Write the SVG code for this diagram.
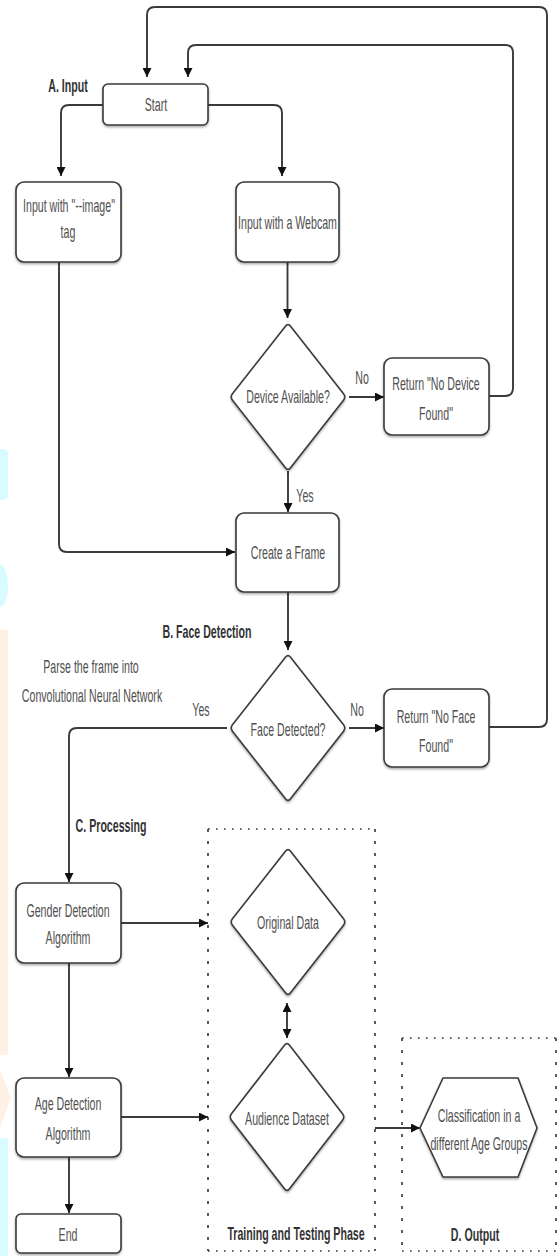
<svg xmlns="http://www.w3.org/2000/svg" width="558" height="1256" viewBox="0 0 558 1256">
<style>
.bg{fill:#ffffff}
.node{fill:#ffffff;stroke:#3a3a3a;stroke-width:1.6;stroke-linejoin:round;filter:url(#sh)}
.dot-h{fill:none;stroke:#333;stroke-width:1.6;stroke-dasharray:1.6 6.4}
.dot-v{fill:none;stroke:#333;stroke-width:1.6;stroke-dasharray:3 9}
.conn path{fill:none;stroke:#3a3a3a;stroke-width:1.9}
.arr{marker-end:url(#ah)}
.t{font-family:"Liberation Sans",Arial,sans-serif;font-size:18px;fill:#505050;text-anchor:middle}
.lb{font-family:"Liberation Sans",Arial,sans-serif;font-size:18px;font-weight:bold;fill:#333;text-anchor:middle}
.wm-c{fill:#d7fbfe}
.wm-o{fill:#fff1e4}
</style>
<defs>
<marker id="ah" viewBox="0 0 10 10" refX="10" refY="5" markerWidth="9" markerHeight="9" markerUnits="userSpaceOnUse" orient="auto-start-reverse">
<path d="M0,0 L10,5 L0,10 z" fill="#111"/>
</marker>
<filter id="sh" x="-10%" y="-10%" width="120%" height="130%">
<feDropShadow dx="0" dy="1.5" stdDeviation="0.8" flood-color="#000" flood-opacity="0.35"/>
</filter>
</defs>
<rect class="bg" x="0" y="0" width="558" height="1256"/>
<g id="watermark">
<rect class="wm-c" x="-6" y="449" width="14" height="51" rx="5"/>
<ellipse class="wm-c" cx="0" cy="586" rx="8" ry="21"/>
<rect class="wm-o" x="0" y="630" width="8" height="425"/>
<path class="wm-o" d="M0,1070 L11,1098 L0,1128 z"/>
<rect class="wm-c" x="0" y="1138" width="8" height="118"/>
</g>

<g id="connectors" class="conn">
<path class="arr" d="M103,105 H69 Q61,105 61,113 V176"/>
<path class="arr" d="M208,105 H274 Q282,105 282,113 V176"/>
<path class="arr" d="M287.5,262 V318"/>
<path class="arr" d="M349,397 H384"/>
<path class="arr" d="M489,396 H505 Q513,396 513,388 V53 Q513,45 505,45 H196 Q188,45 188,53 V77"/>
<path class="arr" d="M288,471 V512"/>
<path class="arr" d="M59,262 V544 Q59,552 67,552 H235"/>
<path class="arr" d="M288,592 V650"/>
<path class="arr" d="M349,728 H384"/>
<path class="arr" d="M489,727 H539 Q547,727 547,719 V15 Q547,7 539,7 H155 Q147,7 147,15 V77"/>
<path class="arr" d="M227,728 H77 Q69,728 69,736 V882"/>
<path class="arr" d="M121,923 H208"/>
<path class="arr" d="M69,963 V1077"/>
<path d="M287,1003 V1038" marker-start="url(#ah)" marker-end="url(#ah)"/>
<path class="arr" d="M121,1117 H208"/>
<path class="arr" d="M375,1128 H420"/>
<path class="arr" d="M69,1157 V1213"/>
</g>

<g id="group-training">
<path class="dot-h" d="M208,829 H375 M208,1251 H375"/>
<path class="dot-v" d="M208,829 V1251 M375,829 V1251"/>
<text class="lb" transform="translate(296,1240) scale(0.59,1)">Training and Testing Phase</text>
</g>
<g id="group-output">
<path class="dot-h" d="M402,1038 H557 M402,1251 H557"/>
<path class="dot-v" d="M402,1038 V1251 M556,1038 V1251"/>
<text class="lb" transform="translate(475,1241) scale(0.59,1)">D. Output</text>
</g>

<g id="labels">
<text class="lb" transform="translate(68,92) scale(0.59,1)">A. Input</text>
<text class="lb" transform="translate(207,638) scale(0.59,1)">B. Face Detection</text>
<text class="lb" transform="translate(111,832) scale(0.59,1)">C. Processing</text>
<text class="t" transform="translate(91,673) scale(0.59,1)">Parse the frame into</text>
<text class="t" transform="translate(92,702) scale(0.59,1)">Convolutional Neural Network</text>
<text class="t" transform="translate(362,384) scale(0.59,1)">No</text>
<text class="t" transform="translate(305,502) scale(0.59,1)">Yes</text>
<text class="t" transform="translate(201,716) scale(0.59,1)">Yes</text>
<text class="t" transform="translate(357,716) scale(0.59,1)">No</text>
</g>

<g id="start">
<rect class="node" x="103" y="84" width="105" height="41" rx="5"/>
<text class="t" transform="translate(156,111) scale(0.59,1)">Start</text>
</g>
<g id="input-image">
<rect class="node" x="16" y="182" width="105" height="80" rx="8"/>
<text class="t" transform="translate(69,212) scale(0.59,1)">Input with "--image"</text>
<text class="t" transform="translate(68,238) scale(0.59,1)">tag</text>
</g>
<g id="input-webcam">
<rect class="node" x="236" y="182" width="103" height="80" rx="8"/>
<text class="t" transform="translate(287.5,229) scale(0.59,1)">Input with a Webcam</text>
</g>
<g id="device-available">
<path class="node" d="M285.5,326.2 Q288,323 290.5,326.2 L343.5,393.8 Q346,397 343.5,400.2 L290.5,467.8 Q288,471 285.5,467.8 L232.5,400.2 Q230,397 232.5,393.8 Z"/>
<text class="t" transform="translate(288,403) scale(0.59,1)">Device Available?</text>
</g>
<g id="no-device">
<rect class="node" x="384" y="358" width="105" height="77" rx="8"/>
<text class="t" transform="translate(436,390) scale(0.59,1)">Return "No Device</text>
<text class="t" transform="translate(436,420) scale(0.59,1)">Found"</text>
</g>
<g id="create-frame">
<rect class="node" x="236" y="513" width="103" height="79" rx="8"/>
<text class="t" transform="translate(288,559) scale(0.59,1)">Create a Frame</text>
</g>
<g id="face-detected">
<path class="node" d="M285.5,657.2 Q288,654 290.5,657.2 L343.5,724.8 Q346,728 343.5,731.2 L290.5,798.8 Q288,802 285.5,798.8 L232.5,731.2 Q230,728 232.5,724.8 Z"/>
<text class="t" transform="translate(288,736) scale(0.59,1)">Face Detected?</text>
</g>
<g id="no-face">
<rect class="node" x="384" y="689" width="105" height="78" rx="8"/>
<text class="t" transform="translate(436,723) scale(0.59,1)">Return "No Face</text>
<text class="t" transform="translate(436,752) scale(0.59,1)">Found"</text>
</g>
<g id="gender">
<rect class="node" x="16" y="883" width="105" height="80" rx="8"/>
<text class="t" transform="translate(68,917) scale(0.59,1)">Gender Detection</text>
<text class="t" transform="translate(68,944) scale(0.59,1)">Algorithm</text>
</g>
<g id="original-data">
<path class="node" d="M285.5,851.2 Q288,848 290.5,851.2 L343.5,918.8 Q346,922 343.5,925.2 L290.5,992.8 Q288,996 285.5,992.8 L232.5,925.2 Q230,922 232.5,918.8 Z"/>
<text class="t" transform="translate(288,929) scale(0.59,1)">Original Data</text>
</g>
<g id="age">
<rect class="node" x="16" y="1078" width="105" height="79" rx="8"/>
<text class="t" transform="translate(68,1110) scale(0.59,1)">Age Detection</text>
<text class="t" transform="translate(68,1140) scale(0.59,1)">Algorithm</text>
</g>
<g id="audience">
<path class="node" d="M284.5,1045.2 Q287,1042 289.5,1045.2 L342.5,1113.8 Q345,1117 342.5,1120.2 L289.5,1188.8 Q287,1192 284.5,1188.8 L231.5,1120.2 Q229,1117 231.5,1113.8 Z"/>
<text class="t" transform="translate(287,1125) scale(0.59,1)">Audience Dataset</text>
</g>
<g id="classification">
<path class="node" d="M420,1128 L443,1078 L518,1078 L537,1128 L518,1177 L443,1177 Z"/>
<text class="t" transform="translate(479,1122) scale(0.59,1)">Classification in a</text>
<text class="t" transform="translate(479,1150) scale(0.59,1)">different Age Groups</text>
</g>
<g id="end">
<rect class="node" x="16" y="1214" width="105" height="39" rx="5"/>
<text class="t" transform="translate(68,1241) scale(0.59,1)">End</text>
</g>
</svg>
